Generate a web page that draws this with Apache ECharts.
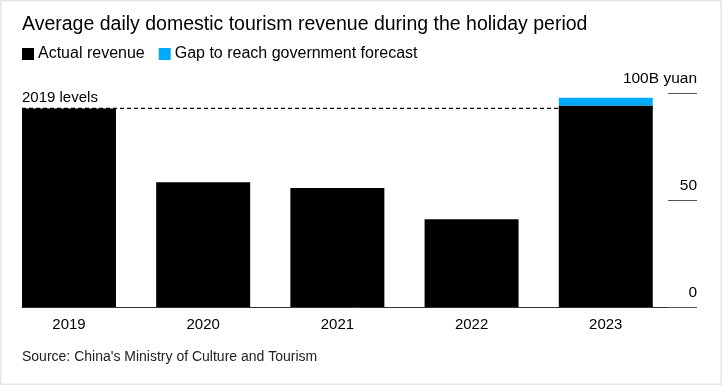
<!DOCTYPE html>
<html>
<head>
<meta charset="utf-8">
<script src="https://cdn.jsdelivr.net/npm/echarts@6/dist/echarts.min.js"></script>
<style>
html,body{margin:0;padding:0;background:#fff;}
#chart{width:722px;height:385px;}
</style>
</head>
<body>
<div id="chart"></div>
<script>
const categories = ['2019', '2020', '2021', '2022', '2023'];
const actualRevenue = [92.8, 58.3, 55.6, 41.0, 94.2];
const gapToForecast = [0, 0, 0, 0, 3.6];
const levels2019 = 92.8;
const yTicks = [0, 50, 100];

const FONT = '"Liberation Sans", Arial, Helvetica, sans-serif';
const chart = echarts.init(document.getElementById('chart'), null, {renderer: 'canvas'});

const option = {
  backgroundColor: '#fff',
  animation: false,
  textStyle: {fontFamily: FONT},
  title: [
    {text: 'Average daily domestic tourism revenue during the holiday period', left: 17, top: 10,
     textStyle: {fontFamily: FONT, fontSize: 19.5, fontWeight: 'normal', color: '#000'}},
    {text: "Source: China's Ministry of Culture and Tourism", left: 17, top: 345,
     textStyle: {fontFamily: FONT, fontSize: 14, fontWeight: 'normal', color: '#222'}}
  ],
  legend: {
    left: 17, top: 41, itemWidth: 12, itemHeight: 12, itemGap: 14, icon: 'rect',
    textStyle: {fontFamily: FONT, fontSize: 16, color: '#000', padding: [0, 0, 0, -1]},
    data: ['Actual revenue', 'Gap to reach government forecast']
  },
  grid: {left: 22, right: 29, top: 93, bottom: 78, containLabel: false},
  xAxis: {
    type: 'category', data: categories,
    axisLine: {show: true, lineStyle: {color: '#333', width: 1}},
    axisTick: {show: false},
    axisLabel: {fontFamily: FONT, fontSize: 15, color: '#000', margin: 10, padding: [0, 40.25, 0, 0]}
  },
  yAxis: {
    type: 'value', position: 'right', min: 0, max: 100, interval: 50, offset: 4,
    axisLine: {show: false},
    axisTick: {show: true, inside: true, length: 29, lineStyle: {color: '#555', width: 1}},
    splitLine: {show: false},
    axisLabel: {
      inside: true, fontFamily: FONT, fontSize: 15.5, color: '#000', margin: 0,
      verticalAlign: 'bottom', padding: [0, 0, 6, 0],
      formatter: v => v === 100 ? '100B yuan' : String(v)
    }
  },
  series: [
    {name: 'Actual revenue', type: 'bar', stack: 'rev', data: actualRevenue, barWidth: 94,
     itemStyle: {color: '#000'}, barGap: '0%'},
    {name: 'Gap to reach government forecast', type: 'bar', stack: 'rev', data: gapToForecast, barWidth: 94,
     itemStyle: {color: '#00aaff'}},
    {name: 'spacer', type: 'bar', data: categories.map(() => 0), barWidth: 40.25, barGap: '0%',
     itemStyle: {color: 'transparent'}, silent: true},
    {name: 'levels', type: 'custom', silent: true, z: 5,
     data: [[0, levels2019]],
     renderItem: function (params, api) {
       const band = api.size([1, 0])[0];
       const p0 = api.coord([0, api.value(1)]);
       const p4 = api.coord([categories.length - 1, api.value(1)]);
       const x0 = p0[0] - band / 2;
       const x1 = p4[0] - band / 2 + 94;
       return {
         type: 'group',
         children: [
           {type: 'line', shape: {x1: x0, y1: p0[1], x2: x1, y2: p0[1]},
            style: {stroke: '#000', lineWidth: 1.3, lineDash: [4, 3]}},
           {type: 'text', x: x0, y: p0[1] - 3,
            style: {text: '2019 levels', fill: '#000', font: '15px ' + FONT, textAlign: 'left', textVerticalAlign: 'bottom'}}
         ]
       };
     }}
  ],
  graphic: [
    {type: 'rect', shape: {x: 0, y: 0, width: 722, height: 385}, silent: true,
     style: {fill: 'none', stroke: '#e6e6e6', lineWidth: 3}, z: 100}
  ]
};
chart.setOption(option);
</script>
</body>
</html>
